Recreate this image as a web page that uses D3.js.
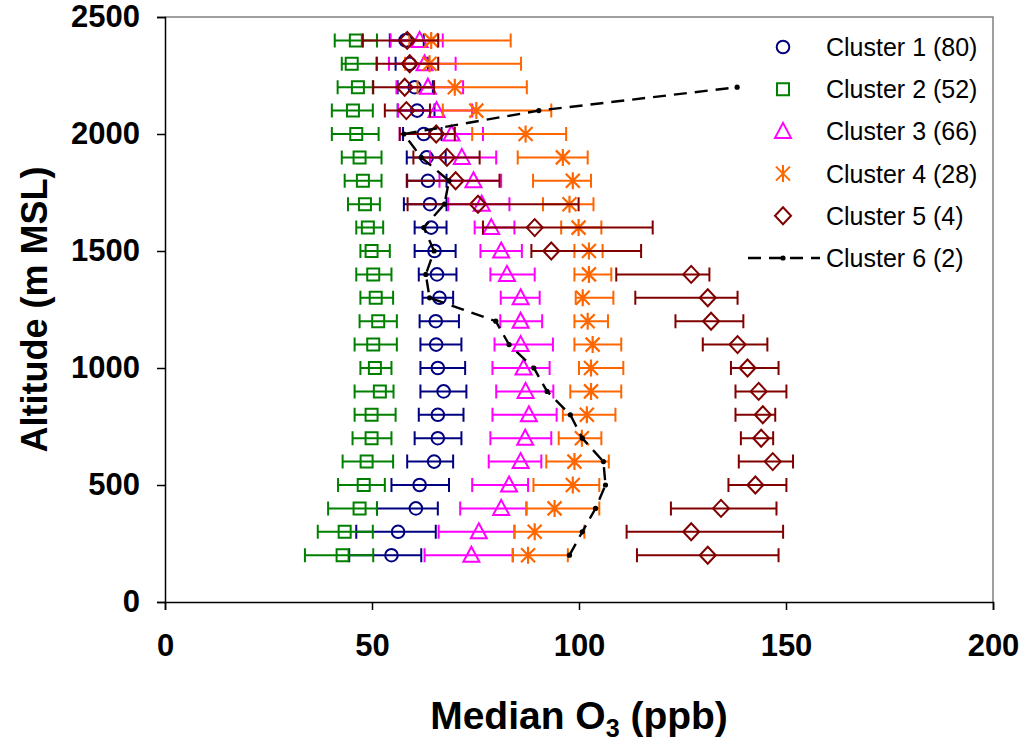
<!DOCTYPE html>
<html>
<head>
<meta charset="utf-8">
<script src="https://cdn.jsdelivr.net/npm/d3@7"></script>
<style>
  body { margin: 0; background: #fff; }
  svg { font-family: "Liberation Sans", Arial, sans-serif; }
</style>
</head>
<body>
<div id="chart"></div>
<script>
// Altitude levels (m MSL), bottom to top
var altitudes = [200, 300, 400, 500, 600, 700, 800, 900, 1000, 1100, 1200, 1300,
  1400, 1500, 1600, 1700, 1800, 1900, 2000, 2100, 2200, 2300, 2400];

// Cluster 1
var c1Med = [54.7, 56.3, 60.6, 61.5, 65.0, 65.9, 65.9, 67.3, 65.9, 65.5, 65.4, 66.3, 65.7, 65.1, 64.3, 64.0, 63.5, 63.2, 62.5, 60.9, 60.3, 59.1, 58.1];
var c1Lo = [44.5, 46.2, 51.2, 54.7, 58.5, 60.3, 61.3, 61.7, 61.7, 61.7, 61.5, 62.2, 61.3, 60.3, 60.3, 57.7, 58.4, 58.4, 57.5, 56.2, 56.2, 55.7, 54.3];
var c1Hi = [61.9, 65.4, 65.9, 68.6, 69.6, 71.6, 72.1, 72.8, 72.5, 71.6, 71.0, 69.6, 70.4, 70.2, 68.0, 68.0, 68.0, 67.8, 66.8, 65.1, 64.7, 63.5, 62.5];

// Cluster 2
var c2Med = [42.9, 43.4, 47.0, 48.0, 48.7, 49.9, 49.9, 51.9, 50.7, 50.3, 51.5, 50.9, 50.3, 49.9, 49.0, 48.3, 47.8, 47.0, 46.2, 45.4, 46.6, 45.1, 46.1];
var c2Lo = [33.8, 36.9, 39.4, 41.8, 42.9, 45.3, 45.8, 45.8, 47.2, 45.8, 47.0, 47.2, 46.2, 47.2, 46.2, 44.2, 43.4, 42.7, 40.3, 40.3, 41.7, 42.7, 41.0];
var c2Hi = [50.3, 50.2, 51.2, 53.1, 55.1, 54.7, 55.7, 55.2, 54.7, 56.0, 56.0, 55.1, 54.7, 54.3, 52.7, 51.9, 52.3, 52.3, 51.6, 50.2, 50.2, 51.2, 51.2];

// Cluster 3
var c3Med = [74.0, 75.8, 81.2, 83.1, 85.9, 87.0, 87.9, 87.1, 86.6, 85.9, 85.9, 85.9, 82.6, 81.2, 78.8, 76.5, 74.5, 71.7, 69.2, 65.6, 63.5, 62.7, 61.5];
var c3Lo = [62.7, 66.1, 71.3, 74.2, 78.2, 78.6, 79.1, 80.0, 79.1, 79.6, 81.0, 81.1, 78.6, 76.2, 74.8, 68.4, 66.3, 64.0, 56.7, 56.3, 55.9, 54.1, 54.5];
var c3Hi = [84.0, 84.4, 87.3, 87.7, 90.9, 93.3, 94.6, 93.8, 92.9, 93.7, 91.1, 90.5, 89.3, 86.2, 84.4, 83.2, 81.2, 80.0, 76.8, 74.2, 72.0, 70.2, 67.1];

// Cluster 4
var c4Med = [87.7, 89.3, 94.1, 98.5, 98.9, 100.7, 101.9, 102.9, 102.9, 103.3, 102.1, 100.9, 102.4, 102.4, 99.9, 97.7, 98.5, 96.1, 87.1, 75.2, 70.0, 63.9, 64.3];
var c4Lo = [84.0, 84.4, 87.3, 89.0, 92.1, 95.1, 96.1, 97.9, 100.0, 98.9, 98.9, 99.2, 98.9, 98.9, 95.7, 91.3, 88.9, 85.2, 74.2, 67.1, 61.0, 58.0, 59.0];
var c4Hi = [97.3, 101.3, 104.9, 104.9, 107.2, 105.4, 108.8, 110.2, 110.7, 110.2, 107.0, 108.3, 107.8, 105.7, 105.4, 103.5, 102.9, 102.1, 96.9, 93.3, 87.4, 86.0, 83.5];

// Cluster 5
var c5Med = [131.1, 127.1, 134.3, 142.6, 146.8, 144.0, 144.4, 143.4, 140.7, 138.3, 131.9, 131.1, 127.1, 93.3, 89.3, 75.6, 70.2, 68.1, 65.5, 58.3, 57.9, 59.1, 58.5];
var c5Lo = [114.0, 111.5, 122.2, 136.1, 138.6, 139.1, 137.8, 137.8, 136.7, 129.9, 123.3, 113.6, 109.0, 88.5, 76.8, 58.6, 58.5, 60.0, 56.7, 53.1, 50.3, 51.1, 47.8];
var c5Hi = [148.2, 149.3, 147.7, 150.1, 151.7, 146.9, 147.4, 150.1, 148.2, 145.5, 139.7, 138.3, 131.5, 115.0, 117.8, 99.9, 80.8, 76.0, 70.0, 64.0, 65.0, 66.0, 66.0];

// Cluster 6 (no error bars, 200 - 2200 m)
var c6Alt = altitudes.slice(0, 21);
var c6Med = [97.7, 100.8, 104.0, 106.4, 105.9, 100.8, 97.9, 92.3, 89.1, 83.1, 79.9, 63.9, 63.0, 65.0, 62.5, 67.5, 68.6, 61.9, 57.7, 90.3, 138.2];

var legendLabels = ["Cluster 1 (80)", "Cluster 2 (52)", "Cluster 3 (66)", "Cluster 4 (28)", "Cluster 5 (4)", "Cluster 6 (2)"];
var xTicks = [0, 50, 100, 150, 200];
var yTicks = [0, 500, 1000, 1500, 2000, 2500];

// SVG area
var svgWidth = 1028;
var svgHeight = 742;
var chartMargin = { top: 17, right: 35, bottom: 140, left: 165 };
var chartWidth = svgWidth - chartMargin.left - chartMargin.right;
var chartHeight = svgHeight - chartMargin.top - chartMargin.bottom;

var svg = d3.select("#chart")
  .append("svg")
  .attr("width", svgWidth)
  .attr("height", svgHeight);

var chartGroup = svg.append("g")
  .attr("transform", `translate(${chartMargin.left}, ${chartMargin.top})`);

var xScale = d3.scaleLinear().domain([0, 200]).range([0, chartWidth]);
var yScale = d3.scaleLinear().domain([0, 2500]).range([chartHeight, 0]);

// plot area border (top / right)
chartGroup.append("path")
  .attr("d", `M0,0 H${chartWidth} V${chartHeight}`)
  .attr("fill", "none")
  .attr("stroke", "#808080")
  .attr("stroke-width", 1.5);

// axes
var leftAxis = d3.axisLeft(yScale).tickValues(yTicks).tickFormat(d3.format("d")).tickSize(8).tickPadding(17);
var bottomAxis = d3.axisBottom(xScale).tickValues(xTicks).tickSize(8).tickPadding(24);

var yAxisG = chartGroup.append("g").call(leftAxis);
var xAxisG = chartGroup.append("g")
  .attr("transform", `translate(0,${chartHeight})`)
  .call(bottomAxis);

[yAxisG, xAxisG].forEach(function(g) {
  g.select(".domain").attr("stroke", "#000").attr("stroke-width", 1.5);
  g.selectAll(".tick line").attr("stroke", "#000").attr("stroke-width", 1.5);
  g.selectAll("text")
    .attr("font-family", "Liberation Sans, Arial, sans-serif")
    .attr("font-size", 31)
    .attr("font-weight", "bold")
    .attr("fill", "#000");
});

// marker shapes
var asterisk = "M0,-8.5V8.5M-7,-7L7,7M-7,7L7,-7";
var shapes = {
  circle: d3.symbol().type(d3.symbolCircle).size(Math.PI * 6.3 * 6.3)(),
  square: "M-6,-6H6V6H-6Z",
  triangle: "M0,-8.5L8,6.5H-8Z",
  star: asterisk,
  diamond: "M0,-8.5L8,0L0,8.5L-8,0Z"
};

var series = [
  { med: c1Med, lo: c1Lo, hi: c1Hi, color: "#000080", shape: "circle" },
  { med: c2Med, lo: c2Lo, hi: c2Hi, color: "#008000", shape: "square" },
  { med: c3Med, lo: c3Lo, hi: c3Hi, color: "#FF00FF", shape: "triangle" },
  { med: c4Med, lo: c4Lo, hi: c4Hi, color: "#FF6600", shape: "star" },
  { med: c5Med, lo: c5Lo, hi: c5Hi, color: "#800000", shape: "diamond" }
];

var capH = 7;

series.forEach(function(s) {
  var rows = altitudes.map(function(a, i) {
    return { alt: a, med: s.med[i], lo: s.lo[i], hi: s.hi[i] };
  });
  var g = chartGroup.append("g")
    .attr("stroke", s.color)
    .attr("stroke-width", 2)
    .attr("fill", "none");

  g.selectAll(".bar")
    .data(rows)
    .enter()
    .append("path")
    .attr("d", d => {
      var yy = yScale(d.alt), x0 = xScale(d.lo), x1 = xScale(d.hi);
      return `M${x0},${yy}H${x1}M${x0},${yy - capH}V${yy + capH}M${x1},${yy - capH}V${yy + capH}`;
    });

  g.selectAll(".mark")
    .data(rows)
    .enter()
    .append("path")
    .attr("d", shapes[s.shape])
    .attr("fill", "none")
    .attr("stroke-width", s.shape == "star" ? 2.2 : 2)
    .attr("transform", d => `translate(${xScale(d.med)},${yScale(d.alt)})`);
});

// cluster 6 dashed line
var c6Rows = c6Alt.map(function(a, i) { return { alt: a, med: c6Med[i] }; });
var line = d3.line().x(d => xScale(d.med)).y(d => yScale(d.alt));

chartGroup.append("path")
  .datum(c6Rows)
  .attr("d", line)
  .attr("fill", "none")
  .attr("stroke", "#000")
  .attr("stroke-width", 2.4)
  .attr("stroke-dasharray", "13,8");

chartGroup.selectAll(".c6dot")
  .data(c6Rows)
  .enter()
  .append("circle")
  .attr("cx", d => xScale(d.med))
  .attr("cy", d => yScale(d.alt))
  .attr("r", 2.6)
  .attr("fill", "#000");

// legend
var legend = svg.append("g");
legendLabels.forEach(function(lbl, i) {
  var ly = 47 + i * 42.2;
  if (i < 5) {
    legend.append("path")
      .attr("d", shapes[series[i].shape])
      .attr("transform", `translate(783,${ly})`)
      .attr("fill", "none")
      .attr("stroke", series[i].color)
      .attr("stroke-width", 2);
  } else {
    legend.append("line")
      .attr("x1", 748).attr("x2", 820)
      .attr("y1", ly).attr("y2", ly)
      .attr("stroke", "#000")
      .attr("stroke-width", 2.4)
      .attr("stroke-dasharray", "13,8");
    legend.append("circle")
      .attr("cx", 783).attr("cy", ly).attr("r", 2.6).attr("fill", "#000");
  }
  legend.append("text")
    .attr("x", 826)
    .attr("y", ly + 9)
    .attr("font-size", 25)
    .text(lbl);
});

// axis titles
var xTitle = svg.append("text")
  .attr("x", chartMargin.left + chartWidth / 2)
  .attr("y", 729)
  .attr("text-anchor", "middle")
  .attr("font-size", 39)
  .attr("font-weight", "bold");
xTitle.append("tspan").text("Median O");
xTitle.append("tspan").attr("font-size", 25).attr("dy", 8).text("3");
xTitle.append("tspan").attr("dy", -8).text(" (ppb)");

svg.append("text")
  .attr("transform", "rotate(-90)")
  .attr("x", -(chartMargin.top + chartHeight / 2))
  .attr("y", 47)
  .attr("text-anchor", "middle")
  .attr("font-size", 36)
  .attr("font-weight", "bold")
  .text("Altitude (m MSL)");
</script>
</body>
</html>
